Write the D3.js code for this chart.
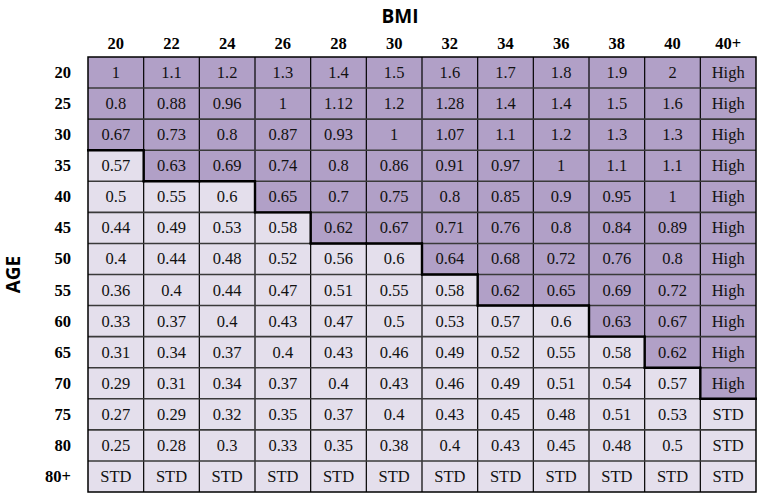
<!DOCTYPE html>
<html>
<head>
<meta charset="utf-8">
<script src="https://cdn.jsdelivr.net/npm/d3@7"></script>
<style>
body { margin: 0; background: #fff; }
svg { display: block; }
.hdr { font-family: "Liberation Serif", "Times New Roman", serif; font-weight: bold; font-size: 16.5px; fill: #000; }
.val { font-family: "Liberation Serif", "Times New Roman", serif; font-size: 16.5px; fill: #111; }
.title { font-family: "Open Sans", "DejaVu Sans", sans-serif; font-weight: bold; font-size: 19px; fill: #000; }
</style>
</head>
<body>
<svg></svg>
<script>

// column and row labels
var bmi = ["20", "22", "24", "26", "28", "30", "32", "34", "36", "38", "40", "40+"];
var ages = ["20", "25", "30", "35", "40", "45", "50", "55", "60", "65", "70", "75", "80", "80+"];

// one array per age row, read left to right
var r20 = ["1", "1.1", "1.2", "1.3", "1.4", "1.5", "1.6", "1.7", "1.8", "1.9", "2", "High"];
var r25 = ["0.8", "0.88", "0.96", "1", "1.12", "1.2", "1.28", "1.4", "1.4", "1.5", "1.6", "High"];
var r30 = ["0.67", "0.73", "0.8", "0.87", "0.93", "1", "1.07", "1.1", "1.2", "1.3", "1.3", "High"];
var r35 = ["0.57", "0.63", "0.69", "0.74", "0.8", "0.86", "0.91", "0.97", "1", "1.1", "1.1", "High"];
var r40 = ["0.5", "0.55", "0.6", "0.65", "0.7", "0.75", "0.8", "0.85", "0.9", "0.95", "1", "High"];
var r45 = ["0.44", "0.49", "0.53", "0.58", "0.62", "0.67", "0.71", "0.76", "0.8", "0.84", "0.89", "High"];
var r50 = ["0.4", "0.44", "0.48", "0.52", "0.56", "0.6", "0.64", "0.68", "0.72", "0.76", "0.8", "High"];
var r55 = ["0.36", "0.4", "0.44", "0.47", "0.51", "0.55", "0.58", "0.62", "0.65", "0.69", "0.72", "High"];
var r60 = ["0.33", "0.37", "0.4", "0.43", "0.47", "0.5", "0.53", "0.57", "0.6", "0.63", "0.67", "High"];
var r65 = ["0.31", "0.34", "0.37", "0.4", "0.43", "0.46", "0.49", "0.52", "0.55", "0.58", "0.62", "High"];
var r70 = ["0.29", "0.31", "0.34", "0.37", "0.4", "0.43", "0.46", "0.49", "0.51", "0.54", "0.57", "High"];
var r75 = ["0.27", "0.29", "0.32", "0.35", "0.37", "0.4", "0.43", "0.45", "0.48", "0.51", "0.53", "STD"];
var r80 = ["0.25", "0.28", "0.3", "0.33", "0.35", "0.38", "0.4", "0.43", "0.45", "0.48", "0.5", "STD"];
var r80p = ["STD", "STD", "STD", "STD", "STD", "STD", "STD", "STD", "STD", "STD", "STD", "STD"];

var table = [r20, r25, r30, r35, r40, r45, r50, r55, r60, r65, r70, r75, r80, r80p];

// cells above this value (or "High") are shaded dark
var threshold = 0.6;

var width = 762, height = 494;
var darkFill = "#b1a0c7", lightFill = "#e4dfec";

var svg = d3.select("svg").attr("width", width).attr("height", height);

var x = d3.scaleBand().domain(bmi).range([88, 756]);
var y = d3.scaleBand().domain(ages).range([57, 492]);

function isDark(v) {
    if (v === "High") return true;
    if (v === "STD") return false;
    return +v > threshold;
}

var cells = [];
table.forEach(function(row, i) {
    row.forEach(function(v, j) {
        cells.push({ age: ages[i], bmi: bmi[j], i: i, j: j, v: v, dark: isDark(v) });
    });
});

svg.selectAll("rect.cell")
    .data(cells)
    .enter().append("rect")
    .attr("class", "cell")
    .attr("x", function(d) { return x(d.bmi); })
    .attr("y", function(d) { return y(d.age); })
    .attr("width", x.bandwidth())
    .attr("height", y.bandwidth())
    .style("fill", function(d) { return d.dark ? darkFill : lightFill; });

// thin grid lines
var grid = svg.append("g");
bmi.forEach(function(b, j) {
    if (j === 0) return;
    grid.append("line")
        .attr("x1", x(b)).attr("x2", x(b))
        .attr("y1", y.range()[0]).attr("y2", y.range()[1])
        .style("stroke", "#000").style("stroke-width", 1.2);
});
ages.forEach(function(a, i) {
    if (i === 0) return;
    grid.append("line")
        .attr("x1", x.range()[0]).attr("x2", x.range()[1])
        .attr("y1", y(a)).attr("y2", y(a))
        .style("stroke", "#3a3a3a").style("stroke-width", 1.6);
});

// thicker stair line between dark and light cells
var stair = svg.append("g");
cells.forEach(function(d) {
    if (d.dark) return;
    if (d.i > 0 && isDark(table[d.i - 1][d.j])) {
        stair.append("line")
            .attr("x1", x(d.bmi) - 1).attr("x2", x(d.bmi) + x.bandwidth() + 1)
            .attr("y1", y(d.age)).attr("y2", y(d.age))
            .style("stroke", "#000").style("stroke-width", 2.4);
    }
    if (d.j < bmi.length - 1 && isDark(table[d.i][d.j + 1])) {
        stair.append("line")
            .attr("x1", x(d.bmi) + x.bandwidth()).attr("x2", x(d.bmi) + x.bandwidth())
            .attr("y1", y(d.age) - 1).attr("y2", y(d.age) + y.bandwidth() + 1)
            .style("stroke", "#000").style("stroke-width", 2.4);
    }
});

// outer frame
svg.append("rect")
    .attr("x", x.range()[0]).attr("y", y.range()[0])
    .attr("width", x.range()[1] - x.range()[0])
    .attr("height", y.range()[1] - y.range()[0])
    .style("fill", "none").style("stroke", "#000").style("stroke-width", 1.5);

// cell values
svg.selectAll("text.val")
    .data(cells)
    .enter().append("text")
    .attr("class", "val")
    .attr("text-anchor", "middle")
    .attr("x", function(d) { return x(d.bmi) + x.bandwidth() / 2; })
    .attr("y", function(d) { return y(d.age) + y.bandwidth() / 2 + 5.5; })
    .text(function(d) { return d.v; });

// column headers
svg.selectAll("text.colh")
    .data(bmi)
    .enter().append("text")
    .attr("class", "hdr colh")
    .attr("text-anchor", "middle")
    .attr("x", function(d) { return x(d) + x.bandwidth() / 2; })
    .attr("y", 49)
    .text(function(d) { return d; });

// row headers
svg.selectAll("text.rowh")
    .data(ages)
    .enter().append("text")
    .attr("class", "hdr rowh")
    .attr("text-anchor", "end")
    .attr("x", 71)
    .attr("y", function(d) { return y(d) + y.bandwidth() / 2 + 5.5; })
    .text(function(d) { return d; });

svg.append("text")
    .attr("class", "title")
    .attr("text-anchor", "middle")
    .attr("x", 400)
    .attr("y", 23)
    .text("BMI");

svg.append("text")
    .attr("class", "title")
    .attr("text-anchor", "middle")
    .attr("transform", "translate(20," + ((y.range()[0] + y.range()[1]) / 2) + ") rotate(-90)")
    .text("AGE");

</script>
</body>
</html>
